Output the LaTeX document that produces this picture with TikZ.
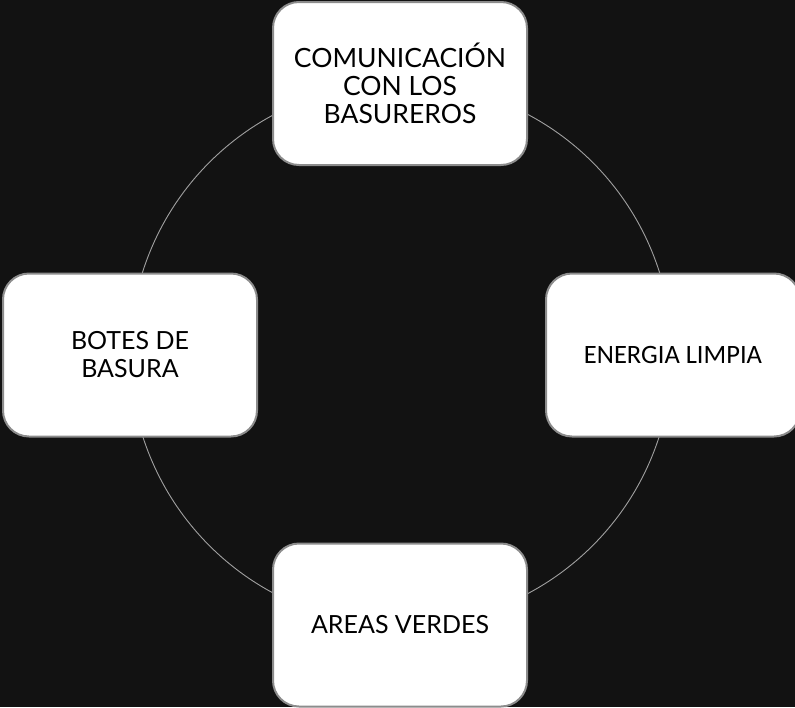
\documentclass[tikz,border=0pt]{standalone}
\usepackage{fontspec}
\setmainfont{Lato}
\newfontfamily\calib{Carlito}
\definecolor{bgc}{HTML}{121212}
\definecolor{boxline}{HTML}{8C8C8C}
\definecolor{ringc}{HTML}{A0A0A0}
\begin{document}
\begin{tikzpicture}[x=1pt,y=-1pt,
  cyclebox/.style={rectangle, rounded corners=26pt, fill=white, draw=boxline, line width=2pt,
    minimum width=254pt, minimum height=163pt, inner sep=0pt, align=center,
    font=\fontsize{25}{28}\selectfont, text=black},
  ring/.style={draw=ringc, line width=0.9pt}]
\fill[bgc] (0,0) rectangle (795,707);
\useasboundingbox (0,0) rectangle (795,707);
\coordinate (ctr) at (401,354);
\draw[ring] (ctr) circle (271);
\node[cyclebox, font=\fontsize{26.5}{28}\selectfont] (top) at (400,83.5) {COMUNICACIÓN\\CON LOS\\BASUREROS};
\node[cyclebox] (left) at (130,355) {BOTES DE\\BASURA};
\node[cyclebox, font=\calib\fontsize{26.5}{28}\selectfont] (right) at (673,355) {ENERGIA LIMPIA};
\node[cyclebox] (bottom) at (400,625) {AREAS VERDES};
\end{tikzpicture}
\end{document}
